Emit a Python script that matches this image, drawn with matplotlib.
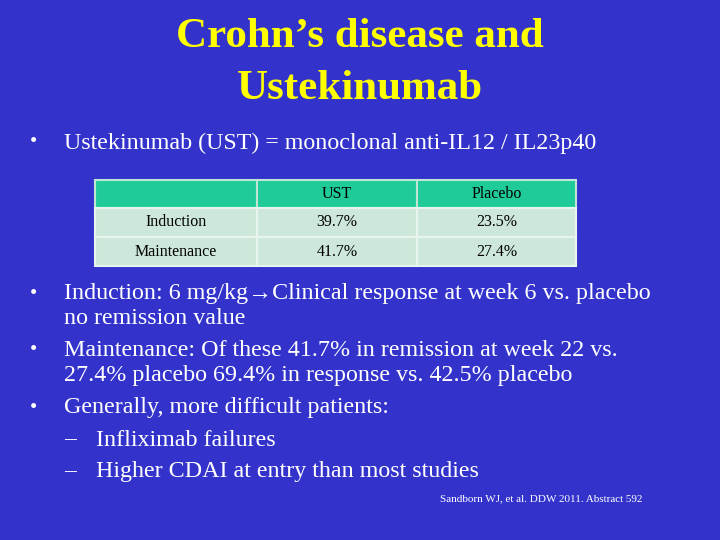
import matplotlib
matplotlib.use("Agg")
import matplotlib.pyplot as plt
from matplotlib.patches import Rectangle

title_lines = ["Crohn\u2019s disease and", "Ustekinumab"]
columns = ["", "UST", "Placebo"]
rows = ["Induction", "Maintenance"]
ust_values = ["39.7%", "41.7%"]
placebo_values = ["23.5%", "27.4%"]
bullets1 = ["Ustekinumab (UST) = monoclonal anti-IL12 / IL23p40"]
bullets2 = [
    ["Induction: 6 mg/kg\u2192Clinical response at week 6 vs. placebo", "no remission value"],
    ["Maintenance: Of these 41.7% in remission at week 22 vs.", "27.4% placebo 69.4% in response vs. 42.5% placebo"],
    ["Generally, more difficult patients:"],
]
subbullets = ["Infliximab failures", "Higher CDAI at entry than most studies"]
source = "Sandborn WJ, et al. DDW 2011. Abstract 592"

W, H = 720, 540
fig = plt.figure(figsize=(7.2, 5.4), dpi=100)
fig.patch.set_facecolor("#3333CC")
ax = fig.add_axes([0, 0, 1, 1])
ax.set_xlim(0, W); ax.set_ylim(H, 0); ax.axis("off")
serif = ["Liberation Serif", "DejaVu Serif"]

ax.text(360, 37, title_lines[0], color="#FFFF00", fontsize=31, fontweight="bold", family=serif, ha="center", va="center")
ax.text(360, 89, title_lines[1], color="#FFFF00", fontsize=31, fontweight="bold", family=serif, ha="center", va="center")

tc = "white"
def bullet(y, lines, x=64, bx=30, fs=17.3, sym="\u2022", step=25, sfs=15):
    ax.text(bx, y, sym, color=tc, fontsize=sfs, family=serif, va="center")
    for i, l in enumerate(lines):
        ax.text(x, y + i * step, l, color=tc, fontsize=fs, family=serif, va="center")

bullet(143, bullets1)

# table
xs = [95, 257, 417, 576]
ys = [180, 208, 237, 266]
for c in range(3):
    ax.add_patch(Rectangle((xs[c], ys[0]), xs[c+1]-xs[c], ys[1]-ys[0], fc="#1FCC99", ec="#BFE6D4", lw=1.5))
    ax.text((xs[c]+xs[c+1])/2, (ys[0]+ys[1])/2, columns[c], fontsize=11.5, family=serif, ha="center", va="center", color="black")
for r in range(2):
    vals = [rows[r], ust_values[r], placebo_values[r]]
    for c in range(3):
        ax.add_patch(Rectangle((xs[c], ys[r+1]), xs[c+1]-xs[c], ys[r+2]-ys[r+1], fc="#CDE8DA", ec="#E8F4EE", lw=1.5))
        ax.text((xs[c]+xs[c+1])/2, (ys[r+1]+ys[r+2])/2, vals[c], fontsize=11.5, family=serif, ha="center", va="center", color="black")

starts = [294, 351, 408]
for y, b in zip(starts, bullets2):
    bullet(y, b)
bullet(440, [subbullets[0]], x=96, bx=64, sym="\u2013", sfs=17)
bullet(472, [subbullets[1]], x=96, bx=64, sym="\u2013", sfs=17)

ax.text(642, 499, source, color=tc, fontsize=8, family=serif, ha="right", va="center")
fig.savefig("out.png", dpi=100, facecolor=fig.get_facecolor())
